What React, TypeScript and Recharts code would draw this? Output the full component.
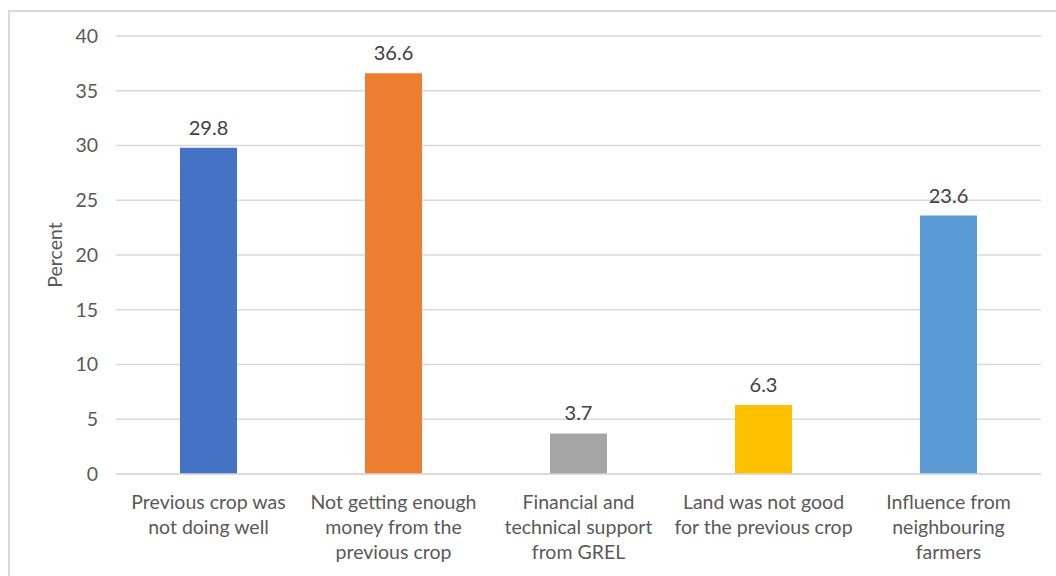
import React from 'react';
import { BarChart, Bar, XAxis, YAxis, CartesianGrid, LabelList, Cell, Label } from 'recharts';

const categories = [
  'Previous crop was\nnot doing well',
  'Not getting enough\nmoney from the\nprevious crop',
  'Financial and\ntechnical support\nfrom GREL',
  'Land was not good\nfor the previous crop',
  'Influence from\nneighbouring\nfarmers',
];
const percents = [29.8, 36.6, 3.7, 6.3, 23.6];
const colors = ['#4472C4', '#ED7D31', '#A5A5A5', '#FFC000', '#5B9BD5'];
const yTicks = [0, 5, 10, 15, 20, 25, 30, 35, 40];
const yTitle = 'Percent';

const data = categories.map((c, i) => ({ name: c, value: percents[i] }));

const FONT = 'Lato, "Open Sans", sans-serif';
const FS = 19.5;

const XTick = (props: any) => {
  const { x, y, payload } = props;
  const lines = String(payload.value).split('\n');
  return (
    <text x={x} y={y} textAnchor="middle" fill="#595959" fontSize={FS} fontFamily={FONT}>
      {lines.map((l, i) => (
        <tspan key={i} x={x} y={y + 33 + i * 25}>{l}</tspan>
      ))}
    </text>
  );
};

const YTitle = (props: any) => {
  const vb = props.viewBox || {};
  const cx = 54;
  const cy = vb.y + vb.height / 2;
  return (
    <text x={cx} y={cy} transform={`rotate(-90 ${cx} ${cy})`} textAnchor="middle" dominantBaseline="central" fill="#595959" fontSize={FS} fontFamily={FONT}>
      {yTitle}
    </text>
  );
};

export default function App() {
  return (
    <div style={{ position: 'absolute', left: 0, top: 0, width: 1056, height: 576, background: '#fff', overflow: 'hidden' }}>
      <div style={{ position: 'absolute', left: 8, top: 10, width: 1060, height: 580, border: '2px solid #d9d9d9', boxSizing: 'border-box' }} />
      <BarChart
        width={1056}
        height={576}
        data={data}
        margin={{ top: 36, right: 15, bottom: 0, left: 0 }}
        style={{ position: 'absolute', left: 0, top: 0 }}
      >
        <CartesianGrid vertical={false} stroke="#d9d9d9" strokeWidth={1.5} />
        <XAxis
          dataKey="name"
          axisLine={{ stroke: '#d9d9d9', strokeWidth: 1.5 }}
          tickLine={false}
          tickSize={0}
          tick={<XTick />}
          interval={0}
          height={102}
        />
        <YAxis
          domain={[0, 40]}
          ticks={yTicks}
          axisLine={false}
          tickLine={false}
          tickSize={0}
          tickMargin={18}
          width={116}
          tick={{ fill: '#595959', fontSize: FS, fontFamily: FONT }}
        >
          <Label content={<YTitle />} />
        </YAxis>
        <Bar dataKey="value" barSize={57} isAnimationActive={false}>
          {data.map((d, i) => (
            <Cell key={i} fill={colors[i]} />
          ))}
          <LabelList dataKey="value" position="top" offset={13} fill="#404040" fontSize={20} fontFamily={FONT} />
        </Bar>
      </BarChart>
    </div>
  );
}
